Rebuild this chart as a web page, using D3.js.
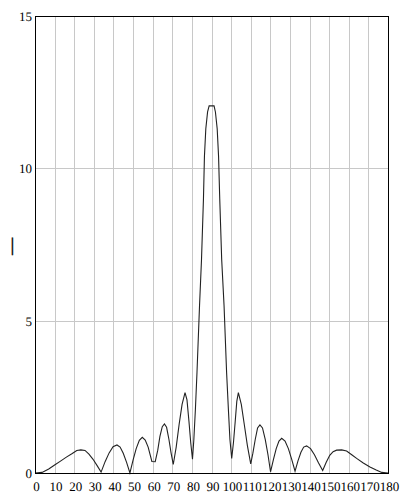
<!DOCTYPE html>
<html>
<head>
<meta charset="utf-8">
<script src="https://cdn.jsdelivr.net/npm/d3@7"></script>
<style>
  html, body { margin: 0; padding: 0; background: #fff; }
  svg { display: block; }
  text { font-family: "Liberation Serif", "Times New Roman", serif; fill: #000; text-rendering: geometricPrecision; }
</style>
</head>
<body>
<svg id="chart" width="401" height="494"></svg>
<script>
// ---- data ----
const xTickLabels = [0,10,20,30,40,50,60,70,80,90,100,110,120,130,140,150,160,170,180];
const yTickLabels = [0,5,10,15];
const yAxisTitle = "|";

const angles = [
  0, 3.6, 7, 10, 13, 16, 19, 21.3, 23.4, 25.5, 27.5, 29.6, 31.6, 33.7,
  35.8, 37.8, 39.8, 41.8, 43.4, 45, 46.7, 48.4,
  50, 51.6, 53.2, 54.7, 56.2, 57.7, 59.6, 61.3,
  62.6, 63.7, 64.9, 66, 67.1, 68.3, 69.4, 70.5,
  72, 73.5, 75, 76.5, 77.5, 78.5, 79.4, 80.3,
  81.0, 81.8, 82.6, 83.9, 84.9, 85.9, 86.4, 87.1, 88.0, 88.8,
  91.3, 92.0, 92.9, 93.6, 94.2, 95.2, 96.4, 97.7, 98.6, 99.4, 100.3,
  101.2, 102.1, 102.9, 103.7, 105.2, 106.7, 108.3, 110,
  111.1, 112.3, 113.5, 114.7, 116, 117.4, 118.8, 120.1,
  121.6, 123, 124.4, 125.8, 127.5, 129.2, 130.9, 132.6,
  134.1, 135.6, 137, 138.5, 140.5, 142.5, 144.6, 146.7,
  148.5, 150.3, 152, 153.8, 156.4, 158.9, 161.5, 164, 167.4, 170.8, 174, 176.8, 180
];
const magnitude = [
  0, 0.02, 0.13, 0.26, 0.39, 0.52, 0.64, 0.74, 0.76, 0.74, 0.62, 0.45, 0.25, 0.03,
  0.38, 0.66, 0.86, 0.92, 0.85, 0.65, 0.35, 0,
  0.42, 0.8, 1.07, 1.17, 1.08, 0.85, 0.38, 0.37,
  0.75, 1.2, 1.52, 1.61, 1.5, 1.1, 0.65, 0.28,
  0.85, 1.6, 2.25, 2.64, 2.4, 1.7, 1.0, 0.45,
  1.1, 2.1, 3.3, 5.5, 7.0, 9.0, 10.4, 11.3, 11.85, 12.05,
  12.05, 11.85, 11.3, 10.4, 9.0, 7.0, 5.5, 3.3, 2.1, 1.1, 0.48,
  1.0, 1.7, 2.35, 2.64, 2.25, 1.6, 0.9, 0.3,
  0.65, 1.1, 1.48, 1.58, 1.48, 1.1, 0.6, 0.04,
  0.45, 0.8, 1.05, 1.14, 1.05, 0.8, 0.45, 0.06,
  0.4, 0.68, 0.85, 0.89, 0.8, 0.6, 0.33, 0.08,
  0.35, 0.58, 0.7, 0.75, 0.76, 0.72, 0.6, 0.48, 0.33, 0.2, 0.1, 0.02, 0
];

// ---- layout ----
const plotLeft = 35, plotRight = 388, plotTop = 16, plotBottom = 473;
const svg = d3.select("#chart");
svg.append("rect").attr("width", 401).attr("height", 494).attr("fill", "#fff");

const x = d3.scaleLinear().domain([0, 180]).range([plotLeft, plotRight]);
const y = d3.scaleLinear().domain([0, 15]).range([plotBottom, plotTop]);

// grid
const grid = svg.append("g").attr("stroke", "#c8c8c8").attr("stroke-width", 1);
grid.selectAll("line.v").data(xTickLabels.filter(d => d > 0 && d < 180)).enter()
  .append("line")
  .attr("x1", d => Math.round(x(d)) + 0.5).attr("x2", d => Math.round(x(d)) + 0.5)
  .attr("y1", plotTop).attr("y2", plotBottom);
grid.selectAll("line.h").data(yTickLabels.filter(d => d > 0 && d < 15)).enter()
  .append("line")
  .attr("y1", d => Math.round(y(d)) + 0.5).attr("y2", d => Math.round(y(d)) + 0.5)
  .attr("x1", plotLeft).attr("x2", plotRight);

// curve
const line = d3.line()
  .x((d, i) => x(angles[i]))
  .y((d, i) => y(magnitude[i]))
  .curve(d3.curveLinear);
svg.append("path")
  .datum(magnitude)
  .attr("d", line)
  .attr("fill", "none")
  .attr("stroke", "#222")
  .attr("stroke-width", 1.1);

// frame
svg.append("rect")
  .attr("x", plotLeft + 0.5).attr("y", plotTop + 0.5)
  .attr("width", plotRight - plotLeft).attr("height", plotBottom - plotTop)
  .attr("fill", "none").attr("stroke", "#000").attr("stroke-width", 1);

// x tick labels
svg.append("g").selectAll("text").data(xTickLabels).enter()
  .append("text")
  .attr("x", d => x(d) + 1.5)
  .attr("y", 491)
  .attr("text-anchor", "middle")
  .attr("font-size", 13)
  .text(d => d);

// y tick labels
svg.append("g").selectAll("text").data(yTickLabels).enter()
  .append("text")
  .attr("x", 32)
  .attr("y", d => y(d) + 5)
  .attr("text-anchor", "end")
  .attr("font-size", 13)
  .text(d => d);

// y axis title
svg.append("text")
  .attr("x", 12.5)
  .attr("y", 251)
  .attr("text-anchor", "middle")
  .attr("font-size", 19)
  .attr("stroke", "#000")
  .attr("stroke-width", 0.4)
  .text(yAxisTitle);
</script>
</body>
</html>
